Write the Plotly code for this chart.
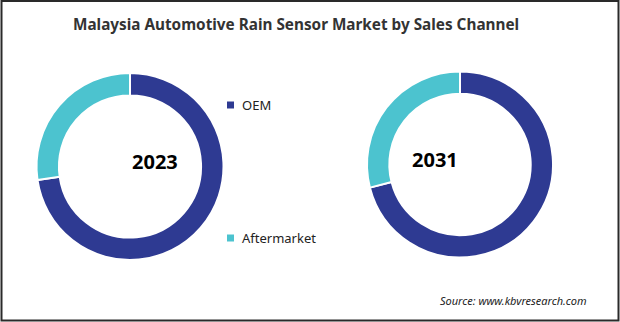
import plotly.graph_objects as go

# Sales channel shares (%) for each year
years = ["2023", "2031"]
channels = ["OEM", "Aftermarket"]
share_2023 = [72.7, 27.3]
share_2031 = [71.0, 29.0]
colors = ["#2E3A92", "#4CC3CF"]

W, H = 620, 322

fig = go.Figure()

domains = [
    dict(x=[36.5 / W, 223.5 / W], y=[62 / H, 249 / H]),
    dict(x=[367 / W, 553 / W], y=[64.5 / H, 250.5 / H]),
]

for year, values, dom in zip(years, [share_2023, share_2031], domains):
    fig.add_trace(go.Pie(
        labels=channels,
        values=values,
        name=year,
        hole=0.76,
        sort=False,
        direction="clockwise",
        rotation=0,
        marker=dict(colors=colors, line=dict(color="white", width=2)),
        textinfo="none",
        hoverinfo="label+percent",
        domain=dom,
        showlegend=False,
    ))
    cx = (dom["x"][0] + dom["x"][1]) / 2
    cy = (dom["y"][0] + dom["y"][1]) / 2 + 5 / H
    fig.add_annotation(
        x=cx, y=cy, xref="paper", yref="paper",
        text=f"<b>{year}</b>", showarrow=False,
        font=dict(family="Noto Sans", size=20, color="#000000"),
    )

# Legend drawn as squares with labels
legend_y = [322 - 105, 322 - 238]
for name, col, ly in zip(channels, colors, legend_y):
    fig.add_shape(
        type="rect", xref="paper", yref="paper",
        x0=227 / W, x1=234 / W, y0=(ly - 3.5) / H, y1=(ly + 3.5) / H,
        fillcolor=col, line=dict(width=0),
    )
    fig.add_annotation(
        x=240 / W, y=ly / H, xref="paper", yref="paper",
        text=name, showarrow=False, xanchor="left", yanchor="middle",
        font=dict(family="Noto Sans", size=13, color="#222222"),
    )

# Title
fig.add_annotation(
    x=296 / W, y=(322 - 24) / H, xref="paper", yref="paper",
    text="<b>Malaysia Automotive Rain Sensor Market by Sales Channel</b>",
    showarrow=False, xanchor="center", yanchor="middle",
    font=dict(family="Noto Sans", size=15.3, color="#333333"),
)

# Source note
fig.add_annotation(
    x=589 / W, y=(322 - 300.5) / H, xref="paper", yref="paper",
    text="<i>Source: www.kbvresearch.com</i>",
    showarrow=False, xanchor="right", yanchor="middle",
    font=dict(family="Noto Sans", size=11, color="#222222"),
)

# Frame around the chart
fig.add_shape(
    type="rect", xref="paper", yref="paper",
    x0=1.5 / W, x1=618.5 / W, y0=1.5 / H, y1=321 / H,
    line=dict(color="#2a2a2a", width=2), fillcolor="rgba(0,0,0,0)",
)

fig.update_layout(
    width=W, height=H,
    margin=dict(l=0, r=0, t=0, b=0),
    paper_bgcolor="white",
    plot_bgcolor="white",
)

fig.write_html("out.html")
